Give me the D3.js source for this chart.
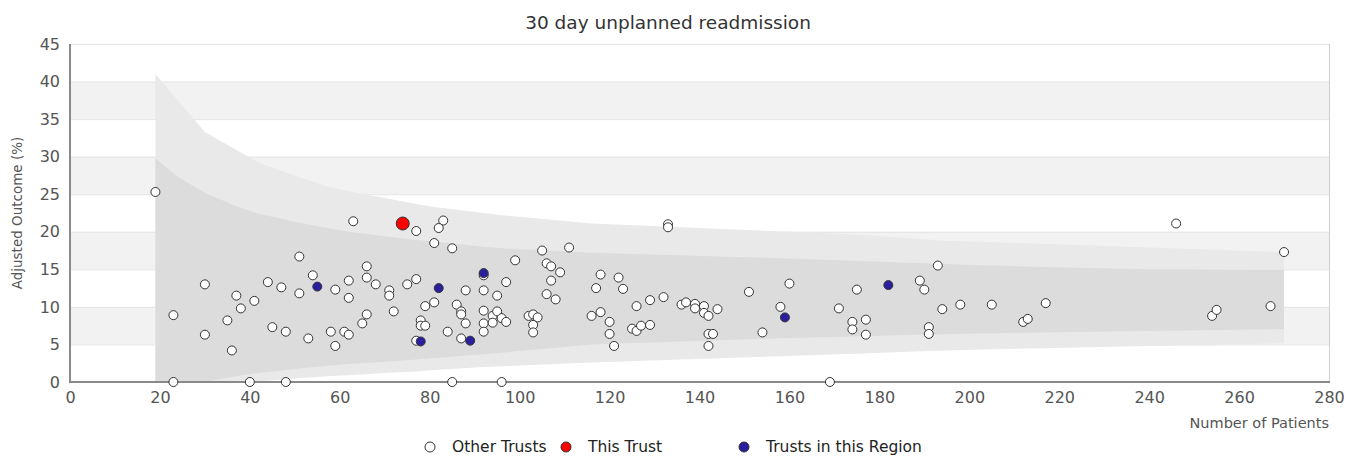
<!DOCTYPE html>
<html>
<head>
<meta charset="utf-8">
<script src="https://cdn.jsdelivr.net/npm/d3@7"></script>
<style>
  body { margin: 0; background: #fff; }
  svg { font-family: "DejaVu Sans", sans-serif; }
</style>
</head>
<body>
<div id="chart"></div>
<script>
// [patients, adjusted outcome %]
const otherTrusts = [
  [19,25.3],[23,8.9],[23,0],[30,13.0],[30,6.3],[36,4.2],[35,8.2],[37,11.5],[38,9.8],[41,10.8],
  [40,0],[44,13.3],[47,12.6],[51,16.7],[51,11.8],[45,7.3],[48,6.7],[48,0],[53,5.8],[54,14.2],
  [59,12.3],[58,6.7],[59,4.8],[63,21.4],[77,20.1],[83,21.5],[82,20.5],[81,18.5],[85,17.8],[99,16.2],
  [66,15.4],[66,13.9],[62,13.5],[62,11.2],[68,13.0],[71,12.2],[71,11.5],[75,13.0],[77,13.7],[88,12.2],
  [92,14.2],[97,13.3],[92,12.2],[95,11.5],[66,9.0],[65,7.8],[72,9.4],[79,10.1],[81,10.6],[86,10.3],
  [87,9.4],[87,9.0],[88,7.8],[92,9.5],[94,8.8],[95,9.4],[96,8.5],[97,8.0],[92,7.8],[94,7.9],
  [92,6.7],[84,6.7],[87,5.8],[78,8.2],[78,7.5],[79,7.5],[77,5.5],[61,6.7],[62,6.3],[85,0],[96,0],
  [133,21.0],[133,20.6],[105,17.5],[111,17.9],[106,15.8],[107,15.4],[109,14.6],[107,13.5],[106,11.7],
  [108,11.0],[118,14.3],[122,13.9],[117,12.5],[123,12.4],[116,8.8],[118,9.3],[120,8.0],[120,6.4],
  [121,4.8],[126,10.1],[129,10.9],[132,11.3],[102,8.8],[103,9.0],[104,8.6],[103,7.6],[103,6.6],
  [125,7.1],[126,6.8],[127,7.5],[129,7.6],[136,10.3],[137,10.6],[139,10.4],[139,9.8],[141,10.1],
  [141,9.2],[142,8.8],[144,9.7],[142,6.4],[143,6.4],[142,4.8],
  [151,12.0],[160,13.1],[158,10.0],[154,6.6],[171,9.8],[175,12.3],[174,8.0],[174,7.0],[177,8.3],
  [177,6.3],[169,0],[193,15.5],[189,13.5],[190,12.3],[194,9.7],[191,7.3],[191,6.4],
  [246,21.1],[270,17.3],[198,10.3],[205,10.3],[217,10.5],[212,8.0],[213,8.4],[254,8.8],[255,9.6],[267,10.1]
];
const regionTrusts = [[55,12.7],[82,12.5],[92,14.5],[89,5.5],[78,5.4],[159,8.6],[182,12.9]];
const thisTrust = [[74,21.1]];

// funnel limits
const funnelN    = [19, 24, 30, 37, 42, 51, 58, 62, 70, 77, 81, 92, 96, 116, 156, 176, 194, 216, 240, 270];
const outerUpper = [41.0,37.5,33.3,30.9,29.2,27.3,25.9,25.4,24.5,23.7,23.3,22.5,22.2,21.1,20.1,19.6,18.8,18.4,17.9,17.3];
const innerUpper = [29.8,27.3,25.2,23.4,22.4,21.2,20.4,20.0,19.4,18.9,18.7,18.0,17.8,17.2,16.5,16.1,15.7,15.3,15.0,14.9];
const innerLower = [0,0,0,0.8,1.2,1.8,2.2,2.4,2.7,3.0,3.2,3.7,3.9,5.0,5.8,6.1,6.35,6.6,6.8,7.05];
const outerLower = [0,0,0,0,0.1,0.5,0.8,0.9,1.2,1.4,1.6,2.0,2.1,2.6,3.4,3.8,4.2,4.5,4.8,5.15];

const xTicks = [0,20,40,60,80,100,120,140,160,180,200,220,240,260,280];
const yTicks = [0,5,10,15,20,25,30,35,40,45];
const legendItems = ["Other Trusts", "This Trust", "Trusts in this Region"];
const legendColors = ["#ffffff", "#ff0000", "#2b1f9f"];

const width = 1348, height = 457;
const margin = { top: 44, right: 19, bottom: 75, left: 70 };

const x = d3.scaleLinear().domain([0, 280]).range([margin.left, width - margin.right]);
const y = d3.scaleLinear().domain([0, 45]).range([height - margin.bottom, margin.top]);

const svg = d3.select("#chart").append("svg")
  .attr("width", width)
  .attr("height", height);

// alternating bands
svg.append("g").selectAll("rect")
  .data(yTicks.filter(d => d < 45 && (d / 5) % 2 === 1))
  .join("rect")
  .attr("x", x(0))
  .attr("width", x(280) - x(0))
  .attr("y", d => y(d + 5))
  .attr("height", d => y(d) - y(d + 5))
  .attr("fill", "#f2f2f2");

svg.append("g").selectAll("line")
  .data(yTicks)
  .join("line")
  .attr("x1", x(0)).attr("x2", x(280))
  .attr("y1", d => y(d) + 0.5).attr("y2", d => y(d) + 0.5)
  .attr("stroke", "#e4e4e4");

// funnel
const funnel = funnelN.map((n, i) => ({ n, ou: outerUpper[i], iu: innerUpper[i], il: innerLower[i], ol: outerLower[i] }));

svg.append("path")
  .datum(funnel)
  .attr("fill", "#e9e9e9")
  .attr("d", d3.area().x(d => x(d.n)).y0(d => y(d.ol)).y1(d => y(d.ou)));

svg.append("path")
  .datum(funnel)
  .attr("fill", "#dcdcdc")
  .attr("d", d3.area().x(d => x(d.n)).y0(d => y(d.il)).y1(d => y(d.iu)));

// right border
svg.append("line")
  .attr("x1", x(280) + 0.5).attr("x2", x(280) + 0.5)
  .attr("y1", y(45)).attr("y2", y(0))
  .attr("stroke", "#cfcfcf");

// axes
const yAxis = svg.append("g")
  .attr("transform", `translate(${x(0)},0)`)
  .call(d3.axisLeft(y).tickValues(yTicks).tickSize(0).tickPadding(10));
yAxis.select(".domain").remove();
yAxis.selectAll("text").attr("font-size", 16).attr("fill", "#555").attr("font-family", "DejaVu Sans");

const xAxis = svg.append("g")
  .attr("transform", `translate(0,${y(0)})`)
  .call(d3.axisBottom(x).tickValues(xTicks).tickSize(0).tickPadding(10));
xAxis.select(".domain").remove();
xAxis.selectAll("text").attr("font-size", 16).attr("fill", "#555").attr("font-family", "DejaVu Sans");

svg.append("line")
  .attr("x1", x(0)).attr("x2", x(0))
  .attr("y1", y(45)).attr("y2", y(0) + 1)
  .attr("stroke", "#8a8a8a").attr("stroke-width", 2);
svg.append("line")
  .attr("x1", x(0) - 1).attr("x2", x(280) + 1)
  .attr("y1", y(0)).attr("y2", y(0))
  .attr("stroke", "#8a8a8a").attr("stroke-width", 2);

// points
const pts = svg.append("g");
pts.selectAll("circle.other")
  .data(otherTrusts)
  .join("circle")
  .attr("class", "other")
  .attr("cx", d => x(d[0])).attr("cy", d => y(d[1]))
  .attr("r", 4.5)
  .attr("fill", "#ffffff").attr("stroke", "#333").attr("stroke-width", 1);
pts.selectAll("circle.region")
  .data(regionTrusts)
  .join("circle")
  .attr("class", "region")
  .attr("cx", d => x(d[0])).attr("cy", d => y(d[1]))
  .attr("r", 4.5)
  .attr("fill", "#2b1f9f").attr("stroke", "#333").attr("stroke-width", 1);
pts.selectAll("circle.this")
  .data(thisTrust)
  .join("circle")
  .attr("class", "this")
  .attr("cx", d => x(d[0])).attr("cy", d => y(d[1]))
  .attr("r", 6.5)
  .attr("fill", "#ff0000").attr("stroke", "#333").attr("stroke-width", 1);

// titles
svg.append("text")
  .attr("x", 668).attr("y", 29)
  .attr("text-anchor", "middle")
  .attr("font-size", 18.5).attr("fill", "#333")
  .text("30 day unplanned readmission");

svg.append("text")
  .attr("transform", `translate(22,${(y(0) + y(45)) / 2}) rotate(-90)`)
  .attr("text-anchor", "middle")
  .attr("font-size", 13.5).attr("fill", "#555")
  .text("Adjusted Outcome (%)");

svg.append("text")
  .attr("x", x(280)).attr("y", 428)
  .attr("text-anchor", "end")
  .attr("font-size", 14.5).attr("fill", "#555")
  .text("Number of Patients");

// legend
const legendX = [430, 566, 744];
const lg = svg.append("g").selectAll("g")
  .data(legendItems)
  .join("g")
  .attr("transform", (d, i) => `translate(${legendX[i]},447)`);
lg.append("circle")
  .attr("r", 5)
  .attr("fill", (d, i) => legendColors[i])
  .attr("stroke", "#333");
lg.append("text")
  .attr("x", 22).attr("dy", "0.35em")
  .attr("font-size", 15.5).attr("fill", "#222")
  .text(d => d);
</script>
</body>
</html>
